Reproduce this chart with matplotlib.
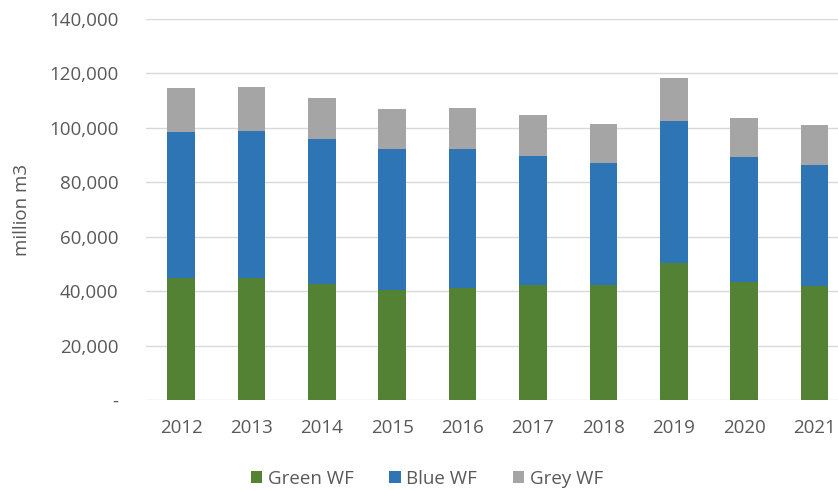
import matplotlib
matplotlib.use("Agg")
import matplotlib.pyplot as plt
from matplotlib.ticker import FuncFormatter

plt.rcParams['font.family'] = ['Open Sans', 'DejaVu Sans']

years = ['2012', '2013', '2014', '2015', '2016', '2017', '2018', '2019', '2020', '2021']
green_wf = [44800, 44800, 42800, 40600, 41100, 42400, 42400, 50500, 43400, 41900]
blue_wf = [53800, 54200, 53100, 51700, 51200, 47100, 44600, 52000, 45800, 44600]
grey_wf = [15900, 16000, 15000, 14600, 15100, 15200, 14600, 16000, 14500, 14700]

c_green = '#548235'
c_blue = '#2E75B6'
c_grey = '#A5A5A5'
txt = '#595959'
fs = 13.5

fig = plt.figure(figsize=(8.38, 4.9), dpi=100)
ax = fig.add_axes([145.8 / 838, 90 / 490, (838 - 145.8) / 838, 381 / 490])

x = list(range(len(years)))
w = 0.39
bottom2 = [g + b for g, b in zip(green_wf, blue_wf)]
ax.bar(x, green_wf, w, color=c_green, label='Green WF', zorder=3)
ax.bar(x, blue_wf, w, bottom=green_wf, color=c_blue, label='Blue WF', zorder=3)
ax.bar(x, grey_wf, w, bottom=bottom2, color=c_grey, label='Grey WF', zorder=3)

ax.set_ylim(0, 140000)
ax.set_xlim(-0.5, 9.5 - (849.8 - 838) / 70.3)
ax.set_yticks(range(0, 140001, 20000))
ax.yaxis.set_major_formatter(FuncFormatter(lambda v, p: '-' if v == 0 else f'{int(v):,}'))
ax.set_xticks(x)
ax.set_xticklabels(years)

ax.grid(axis='y', color='#D9D9D9', linewidth=1, zorder=0)
for s in ax.spines.values():
    s.set_visible(False)
ax.tick_params(axis='both', length=0, labelsize=fs, labelcolor=txt)
ax.tick_params(axis='y', pad=19.5)
ax.tick_params(axis='x', pad=14)
ax.set_ylabel('million m3', fontsize=fs, color=txt, labelpad=13)

fig.legend(loc='center', bbox_to_anchor=(427 / 838, 1 - 479 / 490), ncol=3,
           frameon=False, fontsize=fs, handlelength=0.6, handleheight=0.6,
           columnspacing=1.9, handletextpad=0.3, labelcolor=txt)

fig.savefig('out.png', dpi=100)
